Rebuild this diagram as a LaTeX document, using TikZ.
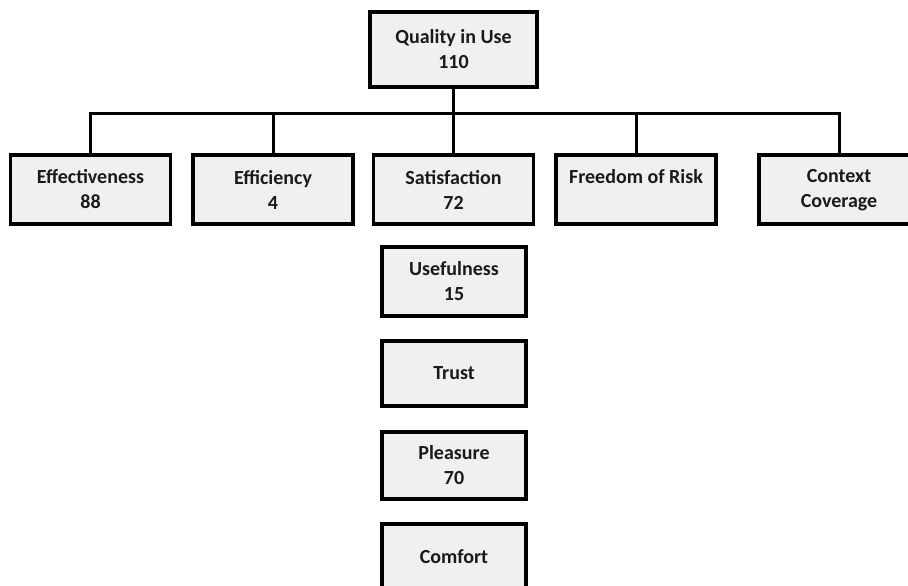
\documentclass[tikz,border=0pt]{standalone}
\usepackage{fontspec}
\setmainfont{Carlito}
\begin{document}
\begin{tikzpicture}[x=1pt,y=-1pt,
  box/.style={draw=black, line width=3.5pt, fill=boxfill, rectangle,
    align=center, inner sep=0pt, outer sep=0pt,
    font=\fontsize{20}{25}\selectfont\bfseries, text=textc},
  rowbox/.style={box, minimum width=160pt, minimum height=69pt},
  colbox/.style={box, minimum width=144pt},
  link/.style={draw=black, line width=3pt}]
\definecolor{boxfill}{HTML}{F0F0F0}
\definecolor{textc}{HTML}{1A1A1A}
\useasboundingbox (0,0) rectangle (908,586);
\clip (0,0) rectangle (908,586);
\fill[white] (0,0) rectangle (908,586);
\coordinate (bus) at (453.5,113);
\node[box, minimum width=167pt, minimum height=75pt] (q) at (453.5,49.5) {Quality in Use\\110};
\node[rowbox] (eff) at (90.5,189.5) {Effectiveness\\88};
\node[rowbox] (effi) at (273,189.5) {Efficiency\\4};
\node[rowbox] (sat) at (453.5,189.5) {Satisfaction\\72};
\node[rowbox] (free) at (636,189.5) {Freedom of Risk\\\phantom{0}};
\node[rowbox, minimum width=220pt] (ctx) at (869,189.5)
  {\begin{tabular}{@{}c@{}}Context\\Coverage\end{tabular}\hspace{60pt}};
\node[colbox, minimum height=69pt] (use) at (454,281.5) {Usefulness\\15};
\node[colbox, minimum height=65pt] (trust) at (454,373.5) {Trust};
\node[colbox, minimum height=67pt] (plea) at (454,465.5) {Pleasure\\70};
\node[colbox, minimum height=66pt] (comf) at (454,557) {Comfort};
\coordinate (ctxtop) at ([xshift=-30pt]ctx.north);
\draw[link] (q.south) -- (sat.north);
\draw[link] (eff.north) -- (eff.north |- bus) -- (ctxtop |- bus) -- (ctxtop);
\draw[link] (effi.north) -- (effi.north |- bus);
\draw[link] (free.north) -- (free.north |- bus);
\end{tikzpicture}
\end{document}
